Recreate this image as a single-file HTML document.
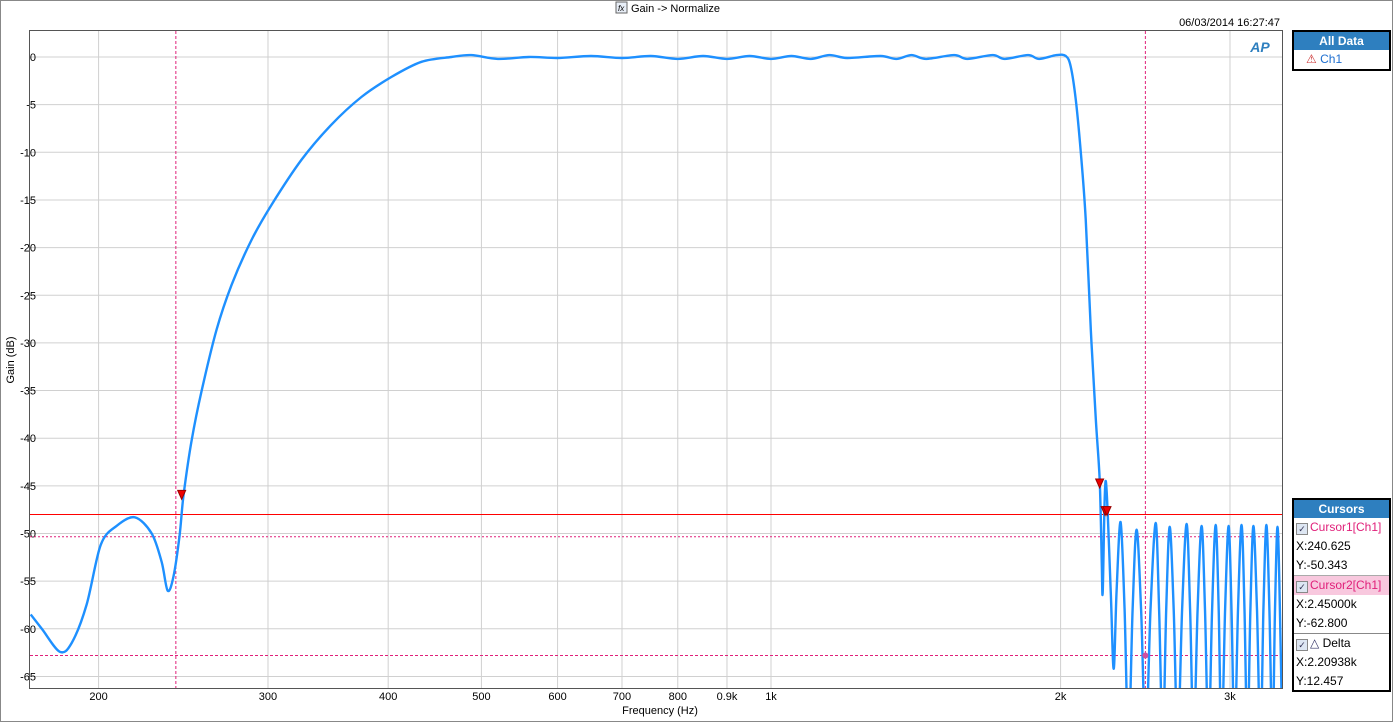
<!DOCTYPE html>
<html><head><meta charset="utf-8"><style>
body{margin:0;width:1393px;height:722px;background:#fff;font-family:"Liberation Sans",sans-serif;overflow:hidden;position:relative}
.t{font-size:11px;fill:#000}
.panel{position:absolute;border:2px solid #000;background:#fff;font-size:12px}
.hdr{background:#2e7fbf;color:#fff;font-weight:bold;text-align:center;height:18px;line-height:18px;font-size:12px}
.row{height:19px;line-height:19px;padding-left:2px}
.cb{display:inline-block;width:10px;height:10px;border:1px solid #888;background:#dde6f2;vertical-align:-1px;margin-right:2px;font-size:9px;line-height:10px;text-align:center;color:#335}
</style></head><body>
<svg width="1393" height="722" style="position:absolute;left:0;top:0">
<rect x="0.5" y="0.5" width="1392" height="721" fill="none" stroke="#888"/>
<rect x="616" y="2" width="11" height="11" fill="#e8eef7" stroke="#666"/>
<text x="618" y="11" font-size="8" font-style="italic">fx</text>
<text x="631" y="12" class="t">Gain -&gt; Normalize</text>
<text x="1280" y="26" class="t" text-anchor="end">06/03/2014 16:27:47</text>
<g id="grid"></g>
<rect x="29.5" y="30.5" width="1253" height="658" fill="none" stroke="#555"/>
<text x="1260" y="52" font-size="14" font-weight="bold" font-style="italic" fill="#2e7fbf" text-anchor="middle">AP</text>
<g id="cur"></g>
<g clip-path="url(#cp)"><path id="line" fill="none" stroke="#1e90ff" stroke-width="2.4"/></g>
<g id="marks"></g>
<defs><clipPath id="cp"><rect x="30" y="31" width="1252" height="657"/></clipPath></defs>
<text x="14" y="360" class="t" text-anchor="middle" transform="rotate(-90 14 360)">Gain (dB)</text>
<text x="660" y="714" class="t" text-anchor="middle">Frequency (Hz)</text>
</svg>
<div class="panel" style="left:1292px;top:30px;width:95px;height:37px">
<div class="hdr">All Data</div>
<div class="row" style="padding-left:12px;color:#1e6fd0"><span style="color:#c33">⚠</span> Ch1</div>
</div>
<div class="panel" style="left:1292px;top:498px;width:95px;height:190px">
<div class="hdr">Cursors</div>
<div class="row" style="color:#e0207a"><span class="cb">✓</span>Cursor1[Ch1]</div>
<div class="row">X:240.625</div>
<div class="row" style="border-bottom:1px solid #aaa">Y:-50.343</div>
<div class="row" style="color:#e0207a;background:#f8c8de"><span class="cb">✓</span>Cursor2[Ch1]</div>
<div class="row">X:2.45000k</div>
<div class="row" style="border-bottom:1px solid #888">Y:-62.800</div>
<div class="row"><span class="cb">✓</span><span style="color:#336">△</span> Delta</div>
<div class="row">X:2.20938k</div>
<div class="row">Y:12.457</div>
</div>
<script>
const freqs=[170,174.6,182.2,187.5,194.3,201,208.8,218.1,227.1,232.6,236,239.3,242.8,245.1,249.9,256,265.3,275,288.4,302.6,325,349.2,375.2,403,433.2,465.2,488,520,560,600,650,700,750,800,850,900,950,1000,1050,1100,1150,1200,1300,1350,1400,1450,1550,1600,1700,1750,1850,1900,1980,2025,2049,2074,2099,2124,2150,2176,2196,2207,2212,2223,2233,2255,2271,2287,2309,2331,2353,2376,2399,2425,2452,2480,2511,2532,2554,2575,2597,2622,2647,2675,2704,2727,2750,2776,2803,2826,2850,2874,2899,2920,2940,2965,2990,3011,3033,3058,3084,3106,3128,3150,3173,3200,3227,3250,3273,3297,3321,3341,3361,3381,3401];
const gains=[-58.5,-60,-62.4,-61.5,-57.5,-51.2,-49.2,-48.3,-50,-53,-56,-54.5,-50.2,-46,-40.2,-35,-28.6,-23.9,-19.2,-15.5,-10.8,-7.1,-4.2,-2.1,-0.5,0,0.2,-0.2,0,-0.1,0.1,-0.1,0.1,-0.2,0.1,-0.2,0.1,-0.2,0.1,-0.2,0.2,-0.1,0.1,-0.2,0.2,-0.2,0.2,-0.2,0.2,-0.2,0.2,-0.2,0.2,0.1,-1,-4.5,-10,-17,-28.6,-38,-44.4,-52.8,-56.2,-46,-45.5,-56,-64.2,-56,-48.8,-58,-72,-58,-49.6,-58,-72,-58,-48.9,-58,-72,-58,-49.3,-58,-72,-58,-49,-58,-72,-58,-49.2,-58,-72,-58,-49.1,-58,-72,-58,-49.2,-58,-72,-58,-49.1,-58,-72,-58,-49.2,-58,-72,-58,-49.1,-58,-72,-58,-49.3,-58,-72,-58,-49.5];
const yTicks=[0,-5,-10,-15,-20,-25,-30,-35,-40,-45,-50,-55,-60,-65];
const xTickVals=[200,300,400,500,600,700,800,900,1000,2000,3000];
const xTickLabels=["200","300","400","500","600","700","800","0.9k","1k","2k","3k"];
const cursorX=[240.625,2450];
const cursorY=[-48,-50.343,-62.8];
const X=f=>771+962*Math.log10(f/1000);
const Y=g=>57-9.53*g;
const NS="http://www.w3.org/2000/svg";
function mk(p,t,a){const e=document.createElementNS(NS,t);for(const k in a)e.setAttribute(k,a[k]);p.appendChild(e);return e;}
const grid=document.getElementById('grid');
yTicks.forEach(v=>{const l=mk(grid,'line',{x1:30,x2:1282,y1:Y(v),y2:Y(v),stroke:'#d0d0d0'});


const t=mk(grid,'text',{x:36,y:Y(v)+4,'text-anchor':'end','class':'t'});t.textContent=v;

});
xTickVals.forEach((v,i)=>{const l=mk(grid,'line',{x1:X(v),x2:X(v),y1:31,y2:688,stroke:'#d0d0d0'});


const t=mk(grid,'text',{x:X(v),y:700,'text-anchor':'middle','class':'t'});t.textContent=xTickLabels[i];

});
const cur=document.getElementById('cur');
cursorX.forEach(v=>{const l=mk(cur,'line',{x1:X(v),x2:X(v),y1:31,y2:688,stroke:'#e0207a','stroke-dasharray':'3,2'});

});
[['#f00',''],['#e0207a','2,2'],['#e0207a','3,2']].forEach((s,i)=>{const l=mk(cur,'line',{x1:30,x2:1282,y1:Y(cursorY[i]),y2:Y(cursorY[i]),stroke:s[0],'stroke-dasharray':s[1]});

});
const P=freqs.map((f,i)=>[X(f),Y(gains[i])]);
let d='M'+P[0][0].toFixed(1)+','+P[0][1].toFixed(1);
for(let i=0;i<P.length-1;i++){const p0=P[Math.max(0,i-1)],p1=P[i],p2=P[i+1],p3=P[Math.min(P.length-1,i+2)];const k=0.16;
d+='C'+(p1[0]+(p2[0]-p0[0])*k).toFixed(1)+','+(p1[1]+(p2[1]-p0[1])*k).toFixed(1)+' '+(p2[0]-(p3[0]-p1[0])*k).toFixed(1)+','+(p2[1]-(p3[1]-p1[1])*k).toFixed(1)+' '+p2[0].toFixed(1)+','+p2[1].toFixed(1);}
document.getElementById('line').setAttribute('d',d);
const marks=document.getElementById('marks');
[[244,-46],[2196,-44.8],[2225,-47.7],[2235,-47.7]].forEach(m=>{const x=X(m[0]),y=Y(m[1]);const p=mk(marks,'polygon',{points:`${x-4},${y-5} ${x+4},${y-5} ${x},${y+4}`,fill:'#e00',stroke:'#900'});

});
const dot=mk(marks,'circle',{cx:X(cursorX[1]),cy:Y(cursorY[2]),r:3,fill:'#d050a0'});


</script>
</body></html>
